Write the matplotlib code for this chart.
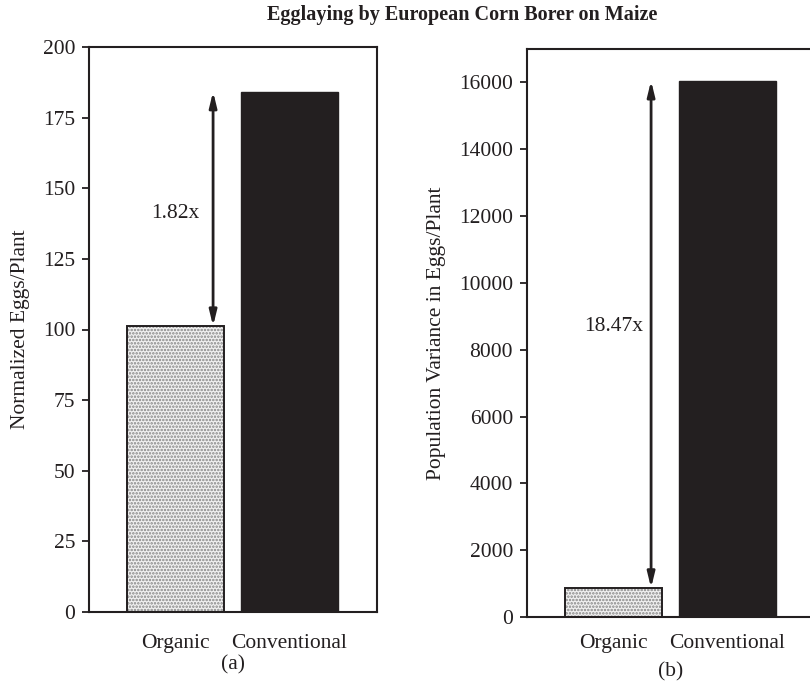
import matplotlib
matplotlib.use('Agg')
from matplotlib import pyplot as plt

# egg counts per plant (a) and their population variance (b)
groups = ['Organic', 'Conventional']
eggs_per_plant = [101.2, 184.2]
eggs_variance = [869, 16050]
ratio_labels = ['1.82x', '18.47x']

plt.rcParams['font.family'] = ['Liberation Serif', 'DejaVu Serif']
plt.rcParams['hatch.linewidth'] = 1.2

W, H = 810, 686
fig = plt.figure(figsize=(W / 100, H / 100), dpi=100)

def px_axes(left, top, width, height):
    return fig.add_axes([left / W, 1 - (top + height) / H, width / W, height / H])

ax1 = px_axes(89, 47, 288, 565)
ax2 = px_axes(527, 49, 288, 568)

def draw_panel(ax, values, ymax, yticks, ylabel, ratio, text_y, sub, tick_pad, sub_y):
    x = [0, 1]
    # dotted organic bar: grey fill + dot hatch, then black outline on top
    ax.bar(x[0], values[0], width=0.85, color='#f0f0f0', edgecolor='#858585',
           hatch='.....', linewidth=0, zorder=2)
    ax.bar(x[0], values[0], width=0.85, fill=False, edgecolor='#231f20',
           linewidth=1.4, zorder=3)
    ax.bar(x[1], values[1], width=0.85, color='#231f20', edgecolor='#231f20',
           linewidth=1.0, zorder=2)

    ax.annotate('', xy=(0.33, values[1]), xytext=(0.33, values[0]),
                arrowprops=dict(arrowstyle='<|-|>,head_length=0.9,head_width=0.22',
                                color='#231f20', lw=2, shrinkA=0, shrinkB=0),
                zorder=4)
    ax.text(0.0, text_y, ratio, ha='center', va='center', fontsize=15.5,
            color='#231f20')

    ax.set_xlim(-0.76, 1.77)
    ax.set_ylim(0, ymax)
    ax.set_yticks(yticks)
    ax.set_xticks(x)
    ax.set_xticklabels(groups, fontsize=15.5, color='#231f20')
    ax.tick_params(axis='x', length=0, pad=tick_pad)
    ax.tick_params(axis='y', length=5, width=1.3, labelsize=15.5,
                   colors='#231f20', pad=5)
    ax.set_ylabel(ylabel, fontsize=15.5, color='#231f20', labelpad=9)
    for s in ax.spines.values():
        s.set_linewidth(1.5)
        s.set_color('#231f20')
    ax.text(0.5, sub_y, sub, transform=ax.transAxes, ha='center', va='center',
            fontsize=15.5, color='#231f20')

draw_panel(ax1, eggs_per_plant, 200, range(0, 201, 25),
           'Normalized Eggs/Plant', ratio_labels[0], 141, '(a)', 16, -0.093)
draw_panel(ax2, eggs_variance, 17000, range(0, 16001, 2000),
           'Population Variance in Eggs/Plant', ratio_labels[1], 8690, '(b)', 12, -0.097)

fig.text(462 / W, 1 - 15 / H, 'Egglaying by European Corn Borer on Maize',
         ha='center', va='center', fontsize=14.5, fontweight='bold',
         color='#231f20')

plt.savefig('out.png', dpi=100)
